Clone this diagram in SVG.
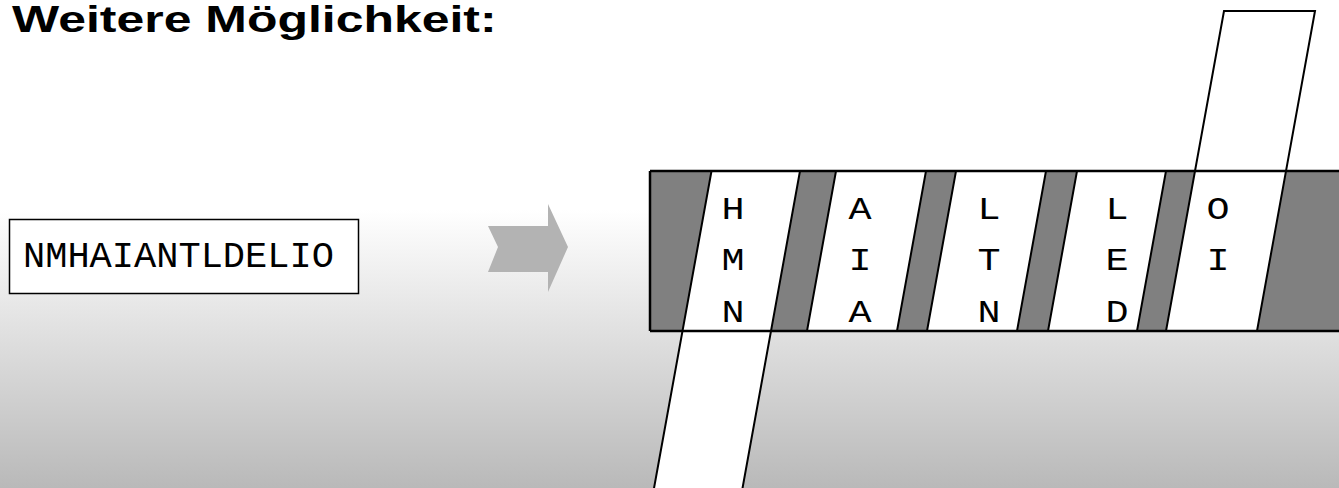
<svg xmlns="http://www.w3.org/2000/svg" width="1339" height="488" viewBox="0 0 1339 488">
  <defs>
    <linearGradient id="bg" x1="0" y1="0" x2="0" y2="1">
      <stop offset="0" stop-color="#ffffff"/>
      <stop offset="0.43" stop-color="#ffffff"/>
      <stop offset="1" stop-color="#b9b9b9"/>
    </linearGradient>
  </defs>
  <style>
    .title { font-family: "Liberation Sans", Arial, sans-serif; font-weight: bold; font-size: 37px; fill: #000; }
    .mono { font-family: "Liberation Mono", "Courier New", monospace; fill: #000; }
    .cipher { font-size: 37px; }
    .let { font-size: 32px; text-anchor: middle; }
    .strip { fill: #ffffff; stroke: #000; stroke-width: 2; stroke-linejoin: miter; }
    .band { fill: #808080; stroke: none; }
    .edge { stroke: #000; stroke-width: 2.5; fill: none; }
  </style>
  <rect x="0" y="0" width="1339" height="488" fill="url(#bg)"/>

  <g id="title">
    <text class="title" transform="translate(12,32) scale(1.35,1)" x="0" y="0">Weitere Möglichkeit:</text>
  </g>

  <g id="ciphertext">
    <rect x="9.5" y="219.5" width="349" height="74" fill="#ffffff" stroke="#000" stroke-width="1.5"/>
    <text class="mono cipher" x="23" y="267">NMHAIANTLDELIO</text>
  </g>

  <g id="arrow">
    <polygon points="488,226 548,226 548,204 568,247 548,292 548,272 488,272 498,247" fill="#b3b3b3"/>
  </g>

  <g id="scytale">
    <rect class="band" x="650" y="171" width="700" height="160"/>
    <polygon class="strip" points="711.5,171 800,171 742,491 653.5,491"/>
    <polygon class="strip" points="836,171 926,171 897,331 807,331"/>
    <polygon class="strip" points="956,171 1046,171 1017,331 927,331"/>
    <polygon class="strip" points="1077,171 1166,171 1137,331 1048,331"/>
    <polygon class="strip" points="1224,11 1315,11 1257,331 1166,331"/>
    <line class="edge" x1="650" y1="171" x2="1339" y2="171"/>
    <line class="edge" x1="650" y1="331" x2="1339" y2="331"/>
    <line class="edge" x1="650" y1="171" x2="650" y2="331"/>
  </g>

  <g id="letters" class="mono">
    <g id="col1">
      <text class="let" transform="translate(733,219) scale(1.2,1)">H</text>
      <text class="let" transform="translate(733,270) scale(1.2,1)">M</text>
      <text class="let" transform="translate(733,322) scale(1.2,1)">N</text>
    </g>
    <g id="col2">
      <text class="let" transform="translate(860,219) scale(1.2,1)">A</text>
      <text class="let" transform="translate(860,270) scale(1.2,1)">I</text>
      <text class="let" transform="translate(860,322) scale(1.2,1)">A</text>
    </g>
    <g id="col3">
      <text class="let" transform="translate(989,219) scale(1.2,1)">L</text>
      <text class="let" transform="translate(989,270) scale(1.2,1)">T</text>
      <text class="let" transform="translate(989,322) scale(1.2,1)">N</text>
    </g>
    <g id="col4">
      <text class="let" transform="translate(1117,219) scale(1.2,1)">L</text>
      <text class="let" transform="translate(1117,270) scale(1.2,1)">E</text>
      <text class="let" transform="translate(1117,322) scale(1.2,1)">D</text>
    </g>
    <g id="col5">
      <text class="let" transform="translate(1218,219) scale(1.2,1)">O</text>
      <text class="let" transform="translate(1218,270) scale(1.2,1)">I</text>
    </g>
  </g>
</svg>
